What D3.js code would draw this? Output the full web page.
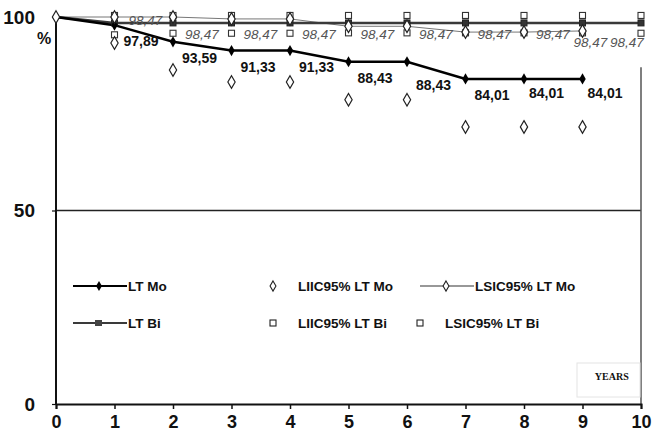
<!DOCTYPE html>
<html><head><meta charset="utf-8">
<script src="https://cdn.jsdelivr.net/npm/d3@7"></script>
<style>
body{margin:0;background:#fff;}
svg{display:block;}
</style></head><body>
<svg id="chart" width="658" height="439"></svg>
<script>
const years = [0,1,2,3,4,5,6,7,8,9,10];
const yTicks = [0,50,100];
const ltMo   = [100,97.89,93.59,91.33,91.33,88.43,88.43,84.01,84.01,84.01];
const liicMo = [100,93.3,86.3,83.2,83.2,78.6,78.6,71.6,71.6,71.6];
const lsicMo = [100,100,100,99.5,99.5,97.6,97.6,96.1,96.1,96.4];
const ltBi   = [100,98.47,98.47,98.47,98.47,98.47,98.47,98.47,98.47,98.47,98.47];
const liicBi = [null,95.4,95.8,95.8,95.8,95.9,95.9,95.9,95.9,95.9,95.8];
const lsicBi = [null,100.4,100.4,100.4,100.4,100.4,100.4,100.4,100.4,100.4,100.4];
const moLabels = ["","97,89","93,59","91,33","91,33","88,43","88,43","84,01","84,01","84,01"];
const biLabels = ["","98,47","98,47","98,47","98,47","98,47","98,47","98,47","98,47","98,47","98,47"];
const legendItems = [
  {name:"LT Mo", kind:"ltMo"},
  {name:"LIIC95% LT Mo", kind:"liicMo"},
  {name:"LSIC95% LT Mo", kind:"lsicMo"},
  {name:"LT Bi", kind:"ltBi"},
  {name:"LIIC95% LT Bi", kind:"liicBi"},
  {name:"LSIC95% LT Bi", kind:"lsicBi"}
];

const svg = d3.select("#chart");
const x = d3.scaleLinear().domain([0,10]).range([56,641]);
const y = d3.scaleLinear().domain([0,100]).range([404,17]);
const boldFont = "Liberation Sans, Arial, sans-serif";
const narrowFont = "Liberation Sans Narrow, Liberation Sans, Arial, sans-serif";

// gridline at 50
svg.append("line").attr("x1",x(0)).attr("x2",x(10)).attr("y1",y(50)).attr("y2",y(50))
  .attr("stroke","#222").attr("stroke-width",1.3);
// right border
svg.append("line").attr("x1",x(10)).attr("x2",x(10)).attr("y1",y(87)).attr("y2",y(0))
  .attr("stroke","#555").attr("stroke-width",1.5);

// x axis
const xAxis = svg.append("g").attr("transform",`translate(0,${y(0)})`)
  .call(d3.axisBottom(x).tickValues(years).tickFormat(d3.format("d")).tickSize(5).tickPadding(6));
xAxis.select(".domain").attr("stroke","#111").attr("stroke-width",2);
xAxis.selectAll(".tick line").attr("stroke","#111").attr("stroke-width",1.5);
xAxis.selectAll(".tick text").attr("font-family",narrowFont).attr("font-weight","bold")
  .attr("font-size",18).attr("fill","#111");

// y axis
const yAxis = svg.append("g").attr("transform",`translate(${x(0)},0)`)
  .call(d3.axisLeft(y).tickValues(yTicks).tickSize(4).tickPadding(17));
yAxis.select(".domain").attr("stroke","#111").attr("stroke-width",2).attr("d",`M0,${y(100)}V${y(0)}`);
yAxis.selectAll(".tick line").attr("stroke","#111").attr("stroke-width",1.2);
yAxis.selectAll(".tick text").attr("font-family",boldFont).attr("font-weight","bold")
  .attr("font-size",19).attr("fill","#111");
svg.append("text").attr("x",37).attr("y",44).text("%").attr("font-family",boldFont)
  .attr("font-weight","bold").attr("font-size",16).attr("fill","#111");

const diamond = d3.symbol().type(d3.symbolDiamond).size(46);
const diamondSmall = d3.symbol().type(d3.symbolDiamond).size(36);
const diamondLeg = d3.symbol().type(d3.symbolDiamond).size(30);

// LSIC Mo line (thin gray)
const lineGen = d3.line().defined(d=>d[1]!=null).x(d=>x(d[0])).y(d=>y(d[1]));
svg.append("path").datum(lsicMo.map((v,i)=>[years[i],v])).attr("d",lineGen)
  .attr("fill","none").attr("stroke","#777").attr("stroke-width",1);
// LT Bi line
svg.append("path").datum(ltBi.map((v,i)=>[years[i],v])).attr("d",lineGen)
  .attr("fill","none").attr("stroke","#3a3a3a").attr("stroke-width",2.5);
// LT Mo line
svg.append("path").datum(ltMo.map((v,i)=>[years[i],v])).attr("d",lineGen)
  .attr("fill","none").attr("stroke","#000").attr("stroke-width",2.5);

// LT Bi squares
svg.append("g").selectAll("rect").data(ltBi.map((v,i)=>[years[i],v]).filter(d=>d[0]>0)).join("rect")
  .attr("x",d=>x(d[0])-3).attr("y",d=>y(d[1])-3).attr("width",6).attr("height",6)
  .attr("fill","#333").attr("stroke","#222");
// LSIC Bi squares (hollow)
svg.append("g").selectAll("rect").data(lsicBi.map((v,i)=>[years[i],v]).filter(d=>d[1]!=null)).join("rect")
  .attr("x",d=>x(d[0])-3).attr("y",d=>y(d[1])-3).attr("width",6).attr("height",6)
  .attr("fill","#fff").attr("stroke","#333").attr("stroke-width",1.1);
// LIIC Bi squares
svg.append("g").selectAll("rect").data(liicBi.map((v,i)=>[years[i],v]).filter(d=>d[1]!=null)).join("rect")
  .attr("x",d=>x(d[0])-3).attr("y",d=>y(d[1])-3).attr("width",6).attr("height",6)
  .attr("fill","#fff").attr("stroke","#333").attr("stroke-width",1.1);
// LT Mo diamonds filled
svg.append("g").selectAll("path").data(ltMo.map((v,i)=>[years[i],v]).filter(d=>d[0]>0)).join("path")
  .attr("d",diamondSmall).attr("transform",d=>`translate(${x(d[0])},${y(d[1])})`).attr("fill","#000");
// LSIC Mo diamonds hollow
svg.append("g").selectAll("path").data(lsicMo.map((v,i)=>[years[i],v])).join("path")
  .attr("d",diamond).attr("transform",d=>`translate(${x(d[0])},${y(d[1])})`)
  .attr("fill","#fff").attr("stroke","#222").attr("stroke-width",1.2);
// LIIC Mo diamonds hollow
svg.append("g").selectAll("path").data(liicMo.map((v,i)=>[years[i],v]).filter(d=>d[0]>0)).join("path")
  .attr("d",diamond).attr("transform",d=>`translate(${x(d[0])},${y(d[1])})`)
  .attr("fill","#fff").attr("stroke","#222").attr("stroke-width",1.2);

// LT Bi labels
svg.append("g").selectAll("text").data(biLabels.map((t,i)=>({t,i,v:ltBi[i]})).filter(d=>d.t)).join("text")
  .attr("x",d=> d.i>=9 ? x(d.i)+ (d.i===10?-14:8) : x(d.i)+ (d.i===1?14:12))
  .attr("y",d=> d.i===1 ? y(d.v)+2 : (d.i>=9 ? y(d.v)+24 : y(d.v)+16))
  .attr("text-anchor",d=> d.i>=9 ? "middle" : "start")
  .text(d=>d.t).attr("font-family",boldFont).attr("font-style","italic")
  .attr("font-size",13.5).attr("fill","#555");
// LT Mo labels
svg.append("g").selectAll("text").data(moLabels.map((t,i)=>({t,i,v:ltMo[i]})).filter(d=>d.t)).join("text")
  .attr("x",d=>x(d.i)+ (d.i>=8?5:9))
  .attr("y",d=>y(d.v)+ (d.i===6?28:(d.i>=8?19:21)))
  .text(d=>d.t).attr("font-family",boldFont).attr("font-weight","bold")
  .attr("font-size",14).attr("fill","#111");

// legend
const colX = [73, 273, 420];
const rowY = [286, 323];
legendItems.forEach((it,k)=>{
  const c = k%3, r = Math.floor(k/3);
  const g = svg.append("g").attr("transform",`translate(${colX[c]},${rowY[r]})`);
  let tx;
  if (it.kind==="ltMo" || it.kind==="ltBi" || it.kind==="lsicMo") {
    g.append("line").attr("x1",0).attr("x2",54).attr("y1",0).attr("y2",0)
      .attr("stroke", it.kind==="lsicMo" ? "#333" : (it.kind==="ltBi"?"#3a3a3a":"#000"))
      .attr("stroke-width", it.kind==="lsicMo" ? 1.2 : 2);
    if (it.kind==="ltMo") g.append("path").attr("d",diamondLeg).attr("transform","translate(26,0)").attr("fill","#000");
    if (it.kind==="ltBi") g.append("rect").attr("x",22).attr("y",-3).attr("width",7).attr("height",6).attr("fill","#444");
    if (it.kind==="lsicMo") g.append("path").attr("d",diamondLeg).attr("transform","translate(26,0)")
      .attr("fill","#fff").attr("stroke","#222").attr("stroke-width",1.1);
    tx = 55;
  } else {
    if (it.kind==="liicMo") g.append("path").attr("d",diamondLeg).attr("transform","translate(0,0)")
      .attr("fill","#fff").attr("stroke","#222").attr("stroke-width",1.1);
    else g.append("rect").attr("x",-3).attr("y",-3).attr("width",6).attr("height",6)
      .attr("fill","#fff").attr("stroke","#222").attr("stroke-width",1.1);
    tx = 25;
  }
  g.append("text").attr("x",tx).attr("y",5).text(it.name).attr("font-family",boldFont)
    .attr("font-weight","bold").attr("font-size",13.5).attr("fill","#111");
});

// YEARS box
svg.append("rect").attr("x",577).attr("y",363).attr("width",63).attr("height",34)
  .attr("fill","#fff").attr("stroke","#e4e4e4").attr("stroke-width",1);
svg.append("text").attr("x",x(9.5)).attr("y",380).attr("text-anchor","middle").text("YEARS")
  .attr("font-family","Liberation Serif, Times New Roman, serif").attr("font-weight","bold")
  .attr("font-size",10).attr("fill","#111");
</script>
</body></html>
